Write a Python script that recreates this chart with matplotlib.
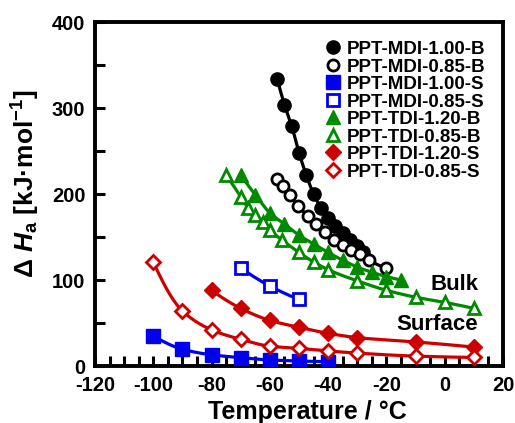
import numpy as np
import matplotlib
matplotlib.use("Agg")
import matplotlib.pyplot as plt
from matplotlib.lines import Line2D
from matplotlib.ticker import MultipleLocator

plt.rcParams['font.family'] = ['Liberation Sans', 'DejaVu Sans']
plt.rcParams['font.weight'] = 'bold'
plt.rcParams['axes.unicode_minus'] = False
plt.rcParams['mathtext.fontset'] = 'custom'
plt.rcParams['mathtext.rm'] = 'Liberation Sans:bold'
plt.rcParams['mathtext.it'] = 'Liberation Sans:italic:bold'
plt.rcParams['mathtext.bf'] = 'Liberation Sans:bold'

# Activation enthalpy (kJ/mol) versus temperature (deg C)
t_mdi100_b = [-57.5, -55, -52.5, -50, -47.5, -45, -42.5, -40, -37.5, -35, -32.5, -30, -28]
h_mdi100_b = [334, 304, 279, 248, 222, 200, 184, 172, 163, 155, 146, 139, 133]

t_mdi085_b = [-57.5, -55.5, -53, -50.5, -47, -44, -41, -38, -35, -32, -29, -26, -20]
h_mdi085_b = [218, 209, 199, 186, 175, 165, 156, 147, 141, 135, 130, 123, 114]

t_mdi100_s = [-100, -90, -80, -70, -60, -50, -40]
h_mdi100_s = [35, 19.5, 13, 9.7, 7, 5.8, 5]

t_mdi085_s = [-70, -60, -50]
h_mdi085_s = [114, 93, 77.5]

t_tdi120_b = [-70, -65, -60, -55, -50, -45, -40, -35, -30, -25, -20, -15]
h_tdi120_b = [222, 199, 178, 165, 152, 142, 132, 123, 115, 109, 104, 100]

t_tdi085_b = [-75, -70, -67.5, -65, -62.5, -60, -56, -50, -45, -40, -30, -20, -10, 0, 10]
h_tdi085_b = [222, 197, 184, 176, 168, 158, 147, 132, 121, 112, 99, 88, 80, 74, 67]

t_tdi120_s = [-80, -70, -60, -50, -40, -30, -10, 10]
h_tdi120_s = [88, 67, 53, 45, 38, 33, 28, 22]

t_tdi085_s = [-100, -90, -80, -70, -60, -50, -40, -30, -10, 10]
h_tdi085_s = [121, 64, 42, 31, 23, 20.5, 17.5, 15, 11.5, 10]

x_ticks = [-120, -100, -80, -60, -40, -20, 0, 20]
y_ticks = [0, 100, 200, 300, 400]


def pchip(x, y, n=300):
    """Shape-preserving cubic interpolation for a smooth guide line."""
    x = np.asarray(x, float)
    y = np.asarray(y, float)
    if len(x) < 3:
        xs = np.linspace(x[0], x[-1], n)
        return xs, np.interp(xs, x, y)
    h = np.diff(x)
    delta = np.diff(y) / h
    d = np.zeros_like(x)
    for k in range(1, len(x) - 1):
        if delta[k - 1] * delta[k] > 0:
            w1 = 2 * h[k] + h[k - 1]
            w2 = h[k] + 2 * h[k - 1]
            d[k] = (w1 + w2) / (w1 / delta[k - 1] + w2 / delta[k])
    d[0] = ((2 * h[0] + h[1]) * delta[0] - h[0] * delta[1]) / (h[0] + h[1])
    if np.sign(d[0]) != np.sign(delta[0]):
        d[0] = 0
    d[-1] = ((2 * h[-1] + h[-2]) * delta[-1] - h[-1] * delta[-2]) / (h[-1] + h[-2])
    if np.sign(d[-1]) != np.sign(delta[-1]):
        d[-1] = 0
    xs = np.linspace(x[0], x[-1], n)
    idx = np.clip(np.searchsorted(x, xs) - 1, 0, len(x) - 2)
    hk = h[idx]
    t = (xs - x[idx]) / hk
    h00 = 2 * t**3 - 3 * t**2 + 1
    h10 = t**3 - 2 * t**2 + t
    h01 = -2 * t**3 + 3 * t**2
    h11 = t**3 - t**2
    ys = h00 * y[idx] + h10 * hk * d[idx] + h01 * y[idx + 1] + h11 * hk * d[idx + 1]
    return xs, ys


BLACK = '#000000'
BLUE = '#0000EE'
GREEN = '#008A00'
RED = '#CC0000'

series = [
    ('PPT-MDI-1.00-B', t_mdi100_b, h_mdi100_b, BLACK, 'o', True, 9.5),
    ('PPT-MDI-0.85-B', t_mdi085_b, h_mdi085_b, BLACK, 'o', False, 8.0),
    ('PPT-MDI-1.00-S', t_mdi100_s, h_mdi100_s, BLUE, 's', True, 9.5),
    ('PPT-MDI-0.85-S', t_mdi085_s, h_mdi085_s, BLUE, 's', False, 8.5),
    ('PPT-TDI-1.20-B', t_tdi120_b, h_tdi120_b, GREEN, '^', True, 10),
    ('PPT-TDI-0.85-B', t_tdi085_b, h_tdi085_b, GREEN, '^', False, 9.0),
    ('PPT-TDI-1.20-S', t_tdi120_s, h_tdi120_s, RED, 'D', True, 8),
    ('PPT-TDI-0.85-S', t_tdi085_s, h_tdi085_s, RED, 'D', False, 7.5),
]

fig = plt.figure(figsize=(5.15, 4.23), dpi=100)
ax = fig.add_axes([95 / 515, 57 / 423, 408 / 515, 344 / 423])

handles = []
for label, tx, hy, col, mk, filled, ms in series:
    xs, ys = pchip(tx, hy)
    ax.plot(xs, ys, color=col, lw=2.3, zorder=2)
    kw = dict(marker=mk, ms=ms, ls='none', color=col, zorder=3)
    if filled:
        kw.update(mfc=col, mec=col, mew=1.0)
    else:
        kw.update(mfc='white', mec=col, mew=2.0)
    ax.plot(tx, hy, **kw)
    handles.append(Line2D([], [], label=label, **kw))

ax.set_xlim(-120, 20)
ax.set_ylim(0, 400)
ax.set_xticks(x_ticks)
ax.set_yticks(y_ticks)
ax.xaxis.set_minor_locator(MultipleLocator(5))
ax.yaxis.set_minor_locator(MultipleLocator(50))
ax.tick_params(which='both', direction='in', length=7, width=2.2,
               top=False, right=False)
ax.tick_params(which='major', labelsize=14.5, pad=7)
for lab in ax.get_xticklabels() + ax.get_yticklabels():
    lab.set_fontweight('bold')
for sp in ax.spines.values():
    sp.set_linewidth(2.8)

ax.set_xlabel('Temperature / °C', fontsize=18, fontweight='bold')
ax.xaxis.set_label_coords(0.521, -0.10)
ax.set_ylabel(r'Δ $H$$_\mathregular{a}$ [kJ·mol$^{\mathregular{-1}}$]',
              fontsize=19, fontweight='bold')
ax.yaxis.set_label_coords(-0.13, 0.53)

ax.text(11.5, 95, 'Bulk', fontsize=16, fontweight='bold', ha='right', va='center')
ax.text(11.5, 48, 'Surface', fontsize=16, fontweight='bold', ha='right', va='center')

ax.legend(handles=handles, loc='upper left', bbox_to_anchor=(0.56, 0.945),
          frameon=False, handlelength=1.0, handletextpad=0.25,
          labelspacing=0.02, borderpad=0, borderaxespad=0,
          prop={'weight': 'bold', 'size': 13.5})

fig.savefig('out.png', dpi=100)
